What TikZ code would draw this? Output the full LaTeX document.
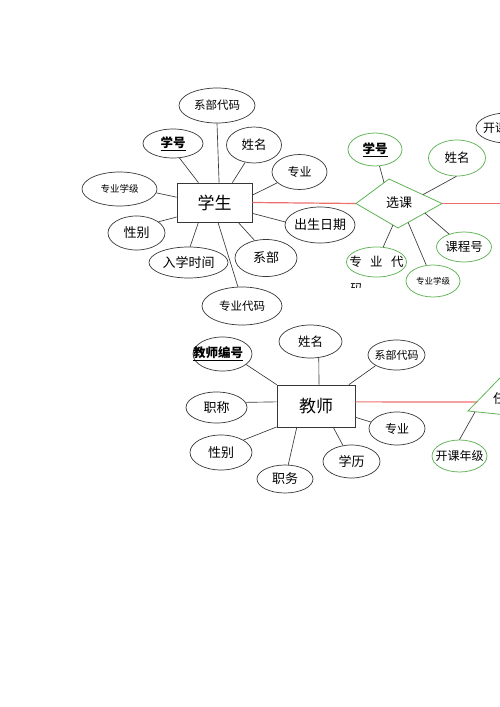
\documentclass[tikz,border=0pt]{standalone}
\usepackage{fontspec}
\setmainfont{Noto Sans CJK SC}
\usetikzlibrary{shapes.geometric,calc}
\definecolor{egreen}{RGB}{95,178,85}
\definecolor{ered}{RGB}{238,110,110}
\definecolor{eline}{RGB}{55,55,55}
\newcommand{\fsz}[1]{\fontsize{#1pt}{#1pt}\selectfont}
\newcommand{\zb}[1]{\makebox[0pt]{#1}}
\newcommand{\keyt}[1]{\underline{\bfseries #1}}
\begin{document}
\begin{tikzpicture}[x=1pt,y=-1pt,
  ell/.style={draw=eline,line width=0.7pt,ellipse,inner sep=0pt},
  gell/.style={draw=egreen,line width=0.75pt,ellipse,inner sep=0pt},
  ebox/.style={draw=eline,line width=0.7pt,rectangle,inner sep=0pt},
  conn/.style={draw=eline,line width=0.65pt},
  rconn/.style={draw=ered,line width=1.2pt},
  gpoly/.style={draw=egreen,line width=0.8pt}]
\useasboundingbox (0,0) rectangle (500,707);
\clip (0,0) rectangle (500,707);

% ---------------- student ----------------
\node[ebox,minimum width=75pt,minimum height=39pt,font=\fsz{17}] (stu) at (214.5,202.5) {学生};
\node[ell,minimum width=76pt,minimum height=35pt,font=\fsz{11.5}] (xbdm) at (217,105.5) {\zb{系部代码}};
\node[ell,minimum width=60pt,minimum height=29pt,font=\fsz{12.5}] (xh) at (173,143.5) {\zb{\keyt{学号}}};
\node[ell,minimum width=55pt,minimum height=36pt,font=\fsz{12.5}] (xm) at (254,145) {\zb{姓名}};
\node[ell,minimum width=55pt,minimum height=35pt,font=\fsz{12}] (zy) at (299.5,172) {\zb{专业}};
\node[ell,minimum width=75pt,minimum height=34pt,font=\fsz{9.5}] (zyxj) at (119.5,189) {\zb{专业学级}};
\node[ell,minimum width=57pt,minimum height=34pt,font=\fsz{13}] (xb) at (136.5,233) {\zb{性别}};
\node[ell,minimum width=79pt,minimum height=31pt,font=\fsz{13}] (rxsj) at (188.5,262.5) {\zb{入学时间}};
\node[ell,minimum width=62pt,minimum height=37pt,font=\fsz{13}] (xbu) at (266,258) {\zb{系部}};
\node[ell,minimum width=80pt,minimum height=38pt,font=\fsz{11.5}] (zydm) at (242,306) {\zb{专业代码}};
\node[ell,minimum width=70pt,minimum height=36pt,font=\fsz{13}] (csrq) at (320,225) {\zb{出生日期}};

\draw[conn] (stu.77) -- (xbdm.270);
\draw[conn] (stu.129) -- (xh.294);
\draw[conn] (stu.48) -- (xm.243);
\draw[conn] (stu.11) -- (zy.206);
\draw[conn] (stu.172) -- (zyxj.354);
\draw[conn] (stu.201) -- (xb.27);
\draw[conn] (stu.231) -- (rxsj.84);
\draw[conn] (stu.280) -- (zydm.102);
\draw[conn] (stu.320) -- (xbu.123);
\draw[conn] (stu.344) -- (csrq.175);

% ---------------- 选课 relationship ----------------
\coordinate (dL) at (356,203.5);
\coordinate (dT) at (389,179);
\coordinate (dR) at (442,203.5);
\coordinate (dB) at (398,228);
\coordinate (redge) at (505,203.5);
\draw[rconn] (stu.east) -- (dL);
\draw[rconn] (dR) -- (redge);
\draw[gpoly] (dL) -- (dT) -- (dR) -- (dB) -- cycle;
\node[font=\fsz{13}] (xk) at (399,203) {选课};

\node[gell,minimum width=54pt,minimum height=33pt,font=\fsz{12.5}] (gxh) at (375,149.5) {\zb{\keyt{学号}}};
\node[gell,minimum width=57pt,minimum height=36pt,font=\fsz{12.5}] (gxm) at (457,158) {\zb{姓名}};
\node[gell,minimum width=60pt,minimum height=30pt,font=\fsz{12.5}] (gzy) at (376.5,262) {\zb{专\hspace{8.5pt}业\hspace{8.5pt}代}};
\node[gell,minimum width=54pt,minimum height=32pt,font=\fsz{8.5}] (gzyxj) at (433,281) {\zb{专业学级}};
\node[gell,minimum width=55pt,minimum height=30pt,font=\fsz{12.5}] (gkch) at (464,247) {\zb{课程号}};
\node[ell,minimum width=62pt,minimum height=30pt,font=\fsz{12}] (kk1) at (507,128) {\zb{开课年级}};
\begin{scope}
  \clip (340,280) rectangle (380,287.5);
  \node[font=\fsz{12.5},inner sep=0pt] (gma) at (356.5,289.5) {码};
\end{scope}

\coordinate (p1) at ($(dL)!0.85!(dT)$);
\coordinate (p2) at ($(dT)!0.64!(dR)$);
\coordinate (p3) at ($(dL)!0.88!(dB)$);
\coordinate (p4) at ($(dB)!0.23!(dR)$);
\coordinate (p5) at ($(dB)!0.61!(dR)$);
\draw[conn] (gxh) -- (p1);
\draw[conn] (gxm.268) -- (p2);
\draw[conn] (gzy) -- (p3);
\draw[conn] (gzyxj) -- (p4);
\draw[conn] (gkch) -- (p5);

% ---------------- teacher ----------------
\node[ebox,minimum width=78pt,minimum height=42pt,font=\fsz{17}] (tea) at (316,406) {教师};
\node[ell,minimum width=59pt,minimum height=34pt,font=\fsz{12.5}] (tbh) at (222.5,354) {\zb{\kern-9pt\keyt{教师编号}}};
\node[ell,minimum width=63pt,minimum height=33pt,font=\fsz{12.5}] (tm) at (310.5,341.5) {\zb{姓名}};
\node[ell,minimum width=57pt,minimum height=30pt,font=\fsz{11}] (tbdm) at (396.5,355) {\zb{系部代码}};
\node[ell,minimum width=61pt,minimum height=31pt,font=\fsz{13}] (tzc) at (216.5,407.5) {\zb{职称}};
\node[ell,minimum width=62pt,minimum height=35pt,font=\fsz{13}] (txb) at (221,452.5) {\zb{性别}};
\node[ell,minimum width=56pt,minimum height=28pt,font=\fsz{13}] (tzw) at (285,479) {\zb{职务}};
\node[ell,minimum width=57pt,minimum height=33pt,font=\fsz{13}] (txl) at (351.5,461.5) {\zb{学历}};
\node[ell,minimum width=56pt,minimum height=33pt,font=\fsz{12}] (tzy) at (397,428.5) {\zb{专业}};
\node[gell,minimum width=55pt,minimum height=32pt,font=\fsz{12}] (kk) at (459.5,456) {\zb{开课年级}};

\draw[conn] (tea.north west) -- (tbh.336);
\draw[conn] (tea.82) -- (tm.297);
\draw[conn] (tea.33) -- (tbdm.207);
\draw[conn] (tea.174) -- (tzc.10);
\draw[conn] (tea.208) -- (txb.29);
\draw[conn] (tea.228) -- (tzw);
\draw[conn] (tea.309) -- (txl);
\draw[conn] (tea.344) -- (tzy.166);

% right relationship (cut by the page edge)
\coordinate (tL) at (468,411);
\coordinate (tT) at (530,347);
\coordinate (tR) at (620,380);
\coordinate (tB) at (580,422.5);
\coordinate (rp) at (477,402);
\coordinate (rq) at (475,412);
\draw[rconn] (tea.6) -- (rp);
\draw[gpoly] (tL) -- (tT) -- (tR) -- (tB) -- cycle;
\node[font=\fsz{13},anchor=west,inner sep=0pt] (rk) at (493,399) {任课};
\draw[conn] (kk.north) -- (rq);
\end{tikzpicture}
\end{document}
